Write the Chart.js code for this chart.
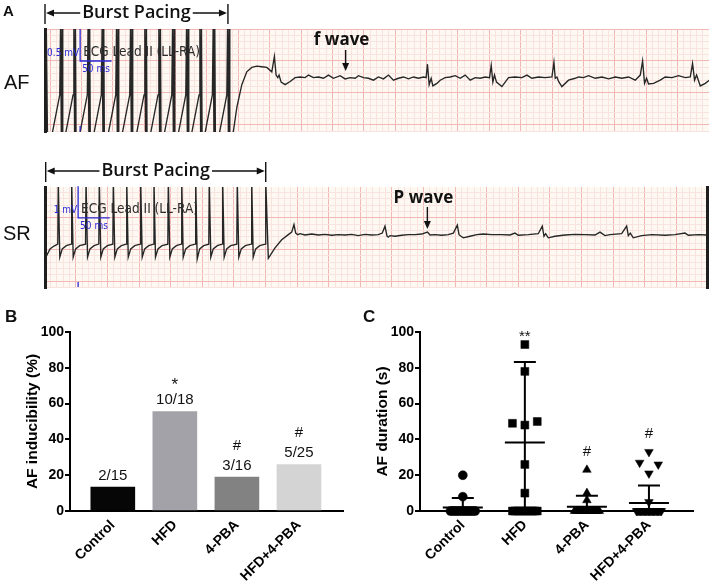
<!DOCTYPE html>
<html>
<head>
<meta charset="utf-8">
<script src="https://cdn.jsdelivr.net/npm/chart.js@4.4.0/dist/chart.umd.min.js"></script>
<style>
  html, body { margin: 0; padding: 0; background: #fff; }
  #wrap { position: relative; width: 709px; height: 584px; overflow: hidden; }
  #wrap canvas { position: absolute; }
</style>
</head>
<body>
<div id="wrap">
  <canvas id="afChart" width="709" height="145" style="left:0;top:0"></canvas>
  <canvas id="srChart" width="709" height="150" style="left:0;top:145px"></canvas>
  <canvas id="inducChart" width="355" height="284" style="left:0;top:300px"></canvas>
  <canvas id="durChart" width="354" height="284" style="left:355px;top:300px"></canvas>
</div>
<script>
// ---------- Panel A: ECG traces, [time ms, voltage mV] ----------
// burst pacing artefacts: slow upstroke, then saturated spike (clipped by the strip)
const afTrace = [
  [-6, 1.6], [-4, -0.2],
  [3, -0.16], [15.5, 0.47], [16.8, 1.6], [18, -0.2], [19.3, 1.6], [20.3, -0.2],
  [24.3, -0.16], [36.7, 0.47], [38, 1.6], [39.2, -0.2], [40.5, 1.6], [41.5, -0.2],
  [47, -0.16], [59.4, 0.47], [60.7, 1.6], [61.9, -0.2], [63.2, 1.6], [64.2, -0.2],
  [69.4, -0.16], [81.8, 0.47], [83.1, 1.6], [84.3, -0.2], [85.6, 1.6], [86.6, -0.2],
  [92.3, -0.16], [104.7, 0.47], [106, 1.6], [107.2, -0.2], [108.5, 1.6], [109.5, -0.2],
  [114.6, -0.16], [127, 0.47], [128.3, 1.6], [129.5, -0.2], [130.8, 1.6], [131.8, -0.2],
  [137.4, -0.16], [149.8, 0.47], [151.1, 1.6], [152.3, -0.2], [153.6, 1.6], [154.6, -0.2],
  [159.7, -0.16], [172.1, 0.47], [173.4, 1.6], [174.6, -0.2], [175.9, 1.6], [176.9, -0.2],
  [181.6, -0.16], [194, 0.47], [195.3, 1.6], [196.5, -0.2], [197.8, 1.6], [198.8, -0.2],
  [203.9, -0.16], [216.3, 0.47], [217.6, 1.6], [218.8, -0.2], [220.1, 1.6], [221.1, -0.2],
  [225.1, -0.16], [237.5, 0.47], [238.8, 1.6], [240, -0.2], [241.3, 1.6], [242.3, -0.2],
  [246.3, -0.16], [258.7, 0.47], [260, 1.6], [261.2, -0.2], [262.5, 1.6], [263.5, -0.2],
  [269.3, -0.16], [281.7, 0.47], [283, 1.6], [284.2, -0.2], [285.5, 1.6], [286.5, -0.2],
  [292.2, -0.1], [297.6, 0.27], [305.6, 0.63], [313.5, 0.83], [321.5, 0.9], [329.5, 0.92],
  [337.5, 0.91], [345.4, 0.9], [353.4, 0.83], [357.5, 1.07], [360.2, 0.78], [363, 0.74],
  [365, 0.78], [368.2, 0.67], [374.6, 0.63], [382.6, 0.68], [390.5, 0.74],
  [398.5, 0.75], [406.5, 0.74], [411.8, 0.78], [419.7, 0.74], [427.7, 0.75], [435.7, 0.73],
  [443.6, 0.78], [451.6, 0.73], [462.3, 0.77], [470.2, 0.72], [478.2, 0.74], [486.2, 0.73],
  [491.5, 0.77], [499.4, 0.74], [507.4, 0.73], [515.4, 0.7], [523.3, 0.75], [531.3, 0.72],
  [539.3, 0.78], [547.2, 0.7], [555.2, 0.73], [563.2, 0.75], [571.2, 0.72], [579.1, 0.75],
  [587.1, 0.73], [595.1, 0.75],
  [599.3, 0.74], [601.4, 0.95], [604.1, 0.63], [607.3, 0.73], [610, 0.61], [616.4, 0.65],
  [621.7, 0.7], [629.6, 0.74], [637.6, 0.75], [645.6, 0.77],
  [653.5, 0.73], [661.5, 0.78], [669.5, 0.7], [677.5, 0.74], [685.4, 0.73], [693.4, 0.75], [700.3, 0.74],
  [703, 0.93], [705.6, 0.67], [708.2, 0.78], [711.4, 0.67], [720, 0.6], [730.6, 0.74],
  [741.2, 0.75], [751.9, 0.74], [759.9, 0.78], [767.8, 0.73], [778.4, 0.75], [789, 0.74], [799.7, 0.75],
  [802.9, 0.98], [805, 0.73], [807.7, 0.75], [810.3, 0.68], [815.6, 0.6], [826.2, 0.7],
  [836.9, 0.73], [842.1, 0.75], [850.1, 0.74], [858.1, 0.77], [868.7, 0.73], [879.4, 0.75],
  [890, 0.72], [900.6, 0.75], [911.3, 0.73], [921.8, 0.75], [932.5, 0.7], [940.5, 0.78],
  [944.2, 1.0], [947.3, 0.65], [950.5, 0.73], [953.7, 0.64], [961.7, 0.65], [972.3, 0.7],
  [980.3, 0.75], [991, 0.74], [1001.5, 0.77], [1012.2, 0.74], [1020.2, 0.75],
  [1023.8, 0.96], [1027, 0.7], [1030.2, 0.78], [1036.1, 0.61], [1044.1, 0.65], [1050.5, 0.7]
];

const srTrace = [
  [2.7, 0.76], [9, 1.02], [15.3, 1.11],
  [21.3, 1.17], [22.1, 3.2], [24.5, 0.76], [28.4, 1.02], [34.8, 1.12],
  [42.5, 1.17], [43.3, 3.2], [45.7, 0.76], [49.6, 1.02], [56, 1.12],
  [65.2, 1.17], [66, 3.2], [68.4, 0.76], [72.3, 1.02], [78.7, 1.12],
  [86.2, 1.17], [87, 3.2], [89.4, 0.76], [93.3, 1.02], [99.7, 1.12],
  [108.4, 1.17], [109.2, 3.2], [111.6, 0.76], [115.5, 1.02], [121.9, 1.12],
  [129.6, 1.17], [130.4, 3.2], [132.8, 0.76], [136.7, 1.02], [143.1, 1.12],
  [151.7, 1.17], [152.5, 3.2], [154.9, 0.76], [158.8, 1.02], [165.2, 1.12],
  [172.7, 1.17], [173.5, 3.2], [175.9, 0.76], [179.8, 1.02], [186.2, 1.12],
  [195.4, 1.17], [196.2, 3.2], [198.6, 0.76], [202.5, 1.02], [208.9, 1.12],
  [216.6, 1.17], [217.4, 3.2], [219.8, 0.76], [223.7, 1.02], [230.1, 1.12],
  [238.7, 1.17], [239.5, 3.2], [241.9, 0.7], [245.8, 1.02], [252.2, 1.12],
  [260.2, 1.17], [261, 3.2], [263.4, 0.76], [267.3, 1.02], [273.7, 1.12],
  [281.4, 1.17], [282.2, 3.2], [284.6, 0.76], [288.5, 1.02], [294.9, 1.12],
  [304.5, 1.17], [305.3, 3.2], [307.7, 0.76], [311.6, 1.02], [318, 1.12],
  [327.3, 1.17], [328.1, 3.2], [330.5, 0.76], [334.4, 1.02], [340.8, 1.12],
  [349.5, 1.17], [350.3, 3.2], [354.4, 0.72],
  [365, 1.05], [375.6, 1.31], [386, 1.47], [391.4, 1.55], [395, 1.79], [397.7, 1.52],
  [400.9, 1.47], [404.5, 1.5], [412.4, 1.46],
  [423, 1.49], [433.5, 1.46], [444.1, 1.48], [454.7, 1.45], [465.1, 1.47], [475.7, 1.46],
  [486.3, 1.48], [496.7, 1.44], [507.3, 1.48], [518, 1.46], [528.4, 1.47], [534.7, 1.52],
  [539, 1.74], [542.2, 1.42], [544.2, 1.39], [546.9, 1.44], [554.8, 1.42], [565.4, 1.45],
  [575.8, 1.47], [586.4, 1.47], [597.1, 1.49],
  [606, 1.55], [610.3, 1.46], [618.1, 1.47], [628.7, 1.45], [639.1, 1.47], [647.1, 1.52],
  [653.4, 1.77], [656.1, 1.47], [659.3, 1.42], [662.9, 1.37], [673.5, 1.42], [684.1, 1.47], [694.5, 1.49],
  [707.8, 1.47], [723.6, 1.47], [736.7, 1.46], [744.6, 1.52], [749.9, 1.45], [765.7, 1.47], [781.5, 1.5],
  [787.8, 1.74], [790.5, 1.42], [793.2, 1.5], [797.3, 1.37], [807.9, 1.42], [823.7, 1.46],
  [839.5, 1.48], [855.4, 1.47], [871.2, 1.46], [879.1, 1.55], [887, 1.44], [894.9, 1.47], [913.4, 1.5],
  [921.3, 1.74], [923.9, 1.44], [927.1, 1.52], [931.8, 1.37], [945, 1.44], [960.9, 1.47],
  [981.9, 1.45], [997.7, 1.47], [1013.6, 1.52], [1018.9, 1.45], [1034.7, 1.47], [1047.9, 1.46], [1052, 1.47]
];

const afPacing = [-8, 283.5];     // burst pacing window (ms)
const srPacing = [2.2, 350.3];
const fWaveAt = 471;              // ms
const pWaveAt = 606;
const afCal = { t: 48, v: 1.0, mv: 0.5, ms: 50 };
const srCal = { t: 53.5, v: 2.0, mv: 1, ms: 50 };

// ---------- Panel B ----------
const groups = ['Control', 'HFD', '4-PBA', 'HFD+4-PBA'];
const inducibility = [13.3, 55.6, 19, 26];
const inducedCounts = ['2/15', '10/18', '3/16', '5/25'];
const inducMarks = ['', '*', '#', '#'];
const barColors = ['#060606', '#a2a2a8', '#828282', '#d4d4d4'];

// ---------- Panel C ----------
const controlDuration = [20, 8, 0, 0, 0, 0, 0, 0, 0, 0, 0, 0, 0, 0, 0];
const hfdDuration = [93, 78, 49, 48, 50, 26, 10, 0, 0, 0, 0, 0, 0, 0, 0, 0, 0, 0];
const pbaDuration = [23, 10, 6, 0, 0, 0, 0, 0, 0, 0, 0, 0, 0, 0, 0, 0];
const hfdPbaDuration = [33, 27, 26, 21, 5, 0, 0, 0, 0, 0, 0, 0, 0, 0, 0, 0, 0, 0, 0, 0, 0, 0, 0, 0, 0];
const durationMean = [1.9, 38.3, 2.4, 4.5];
const durationSD = [5.4, 45, 6.1, 9.8];
const durationMarks = ['', '**', '#', '#'];

// ---------- common ----------
Chart.defaults.font.family = '"Liberation Sans", Arial, sans-serif';
Chart.defaults.color = '#000';
const gridMajor = '#f2b8b8';
const gridMinor = '#f9e3df';
const ink = '#111';

function stepTicks(step) {
  return scale => {
    const ticks = [];
    for (let v = Math.ceil(scale.min / step - 1e-9) * step; v <= scale.max + 1e-9; v += step) {
      ticks.push({ value: Math.round(v * 1000) / 1000 });
    }
    scale.ticks = ticks;
  };
}

const paperBackground = {
  id: 'paperBackground',
  beforeDraw(chart) {
    const { ctx, chartArea: a } = chart;
    ctx.save();
    ctx.fillStyle = '#fdf8f1';
    ctx.fillRect(a.left, a.top, a.width, a.height);
    ctx.restore();
  }
};

function arrowHead(ctx, x, y, dir) {
  ctx.beginPath();
  if (dir === 'left') { ctx.moveTo(x, y); ctx.lineTo(x + 8, y - 3.5); ctx.lineTo(x + 8, y + 3.5); }
  else if (dir === 'right') { ctx.moveTo(x, y); ctx.lineTo(x - 8, y - 3.5); ctx.lineTo(x - 8, y + 3.5); }
  else { ctx.moveTo(x, y); ctx.lineTo(x - 3.5, y - 8); ctx.lineTo(x + 3.5, y - 8); }
  ctx.closePath();
  ctx.fill();
}

function pacingBracket(chart, win, y) {
  const { ctx, scales: { x } } = chart;
  const x1 = x.getPixelForValue(win[0]), x2 = x.getPixelForValue(win[1]);
  ctx.font = '600 18px "Open Sans"';
  const w = ctx.measureText('Burst Pacing').width;
  const cx = (x1 + x2) / 2;
  ctx.strokeStyle = ctx.fillStyle = ink;
  ctx.lineWidth = 1.4;
  ctx.beginPath();
  ctx.moveTo(x1, y - 9); ctx.lineTo(x1, y + 11);
  ctx.moveTo(x2, y - 9); ctx.lineTo(x2, y + 11);
  ctx.moveTo(x1 + 3, y); ctx.lineTo(cx - w / 2 - 2, y);
  ctx.moveTo(cx + w / 2 + 2, y); ctx.lineTo(x2 - 3, y);
  ctx.stroke();
  arrowHead(ctx, x1 + 1, y, 'left');
  arrowHead(ctx, x2 - 1, y, 'right');
  ctx.textAlign = 'center';
  ctx.textBaseline = 'middle';
  ctx.fillText('Burst Pacing', cx, y);
}

function waveLabel(chart, t, text, textY, y1, y2) {
  const { ctx, scales: { x } } = chart;
  const px = x.getPixelForValue(t);
  ctx.font = 'bold 17px "Open Sans"';
  ctx.fillStyle = ctx.strokeStyle = ink;
  ctx.textAlign = 'center';
  ctx.textBaseline = 'middle';
  ctx.fillText(text, px - 4, textY);
  ctx.lineWidth = 1.4;
  ctx.beginPath(); ctx.moveTo(px, y1); ctx.lineTo(px, y2 - 4); ctx.stroke();
  arrowHead(ctx, px, y2, 'down');
}

function calibration(chart, cal, mvText) {
  const { ctx, chartArea: a, scales: { x, y } } = chart;
  const px = x.getPixelForValue(cal.t), px1 = x.getPixelForValue(cal.t + cal.ms);
  const py0 = y.getPixelForValue(cal.v), py1 = y.getPixelForValue(cal.v + cal.mv);
  ctx.strokeStyle = ctx.fillStyle = '#2a2ad6';
  ctx.lineWidth = 1.3;
  ctx.beginPath();
  ctx.moveTo(px, py1); ctx.lineTo(px, py0); ctx.lineTo(px1, py0);
  ctx.moveTo(px, a.bottom - 6); ctx.lineTo(px, a.bottom - 1);
  ctx.stroke();
  ctx.font = '10px "Liberation Sans Narrow", "DejaVu Sans Condensed", sans-serif';
  ctx.textBaseline = 'middle';
  ctx.textAlign = 'right';
  ctx.fillText(mvText, px - 1, py0 - 8);
  ctx.textAlign = 'left';
  ctx.fillText('50 ms', px + 2, py0 + 8);
  ctx.fillStyle = '#2c2c2c';
  ctx.font = '13.5px "Liberation Sans Narrow", "DejaVu Sans Condensed", sans-serif';
  ctx.fillText('ECG Lead II (LL-RA)', px + 3, py0 - 8);
}

function ecgChart(id, trace, xr, yr, yStep, yMajor, padding, extraScales, notes) {
  return new Chart(document.getElementById(id), {
    type: 'line',
    data: {
      datasets: [{
        data: trace.map(p => ({ x: p[0], y: p[1] })),
        borderColor: '#262626',
        borderWidth: 1.35,
        pointRadius: 0,
        tension: 0
      }]
    },
    options: {
      responsive: false,
      animation: false,
      events: [],
      layout: { padding },
      plugins: { legend: { display: false }, tooltip: { enabled: false } },
      scales: Object.assign({
        x: {
          type: 'linear', min: xr[0], max: xr[1],
          afterBuildTicks: stepTicks(10),
          ticks: { display: false },
          grid: { drawTicks: false, color: c => (c.tick && Math.round(c.tick.value) % 50 === 0) ? gridMajor : gridMinor },
          border: { display: false }
        },
        y: {
          type: 'linear', min: yr[0], max: yr[1],
          afterBuildTicks: stepTicks(yStep),
          ticks: { display: false },
          grid: { drawTicks: false, color: c => (c.tick && Math.round(c.tick.value * 10) % Math.round(yMajor * 10) === 0) ? gridMajor : gridMinor },
          border: { display: true, color: '#1e1e1e', width: 3 }
        }
      }, extraScales)
    },
    plugins: [paperBackground, { id: 'ecgNotes', afterDraw: notes }]
  });
}

// AF trace
ecgChart('afChart', afTrace, [-8, 1050], [-0.11, 1.5], 0.1, 0.5,
  { left: 45, top: 29, right: 0, bottom: 13 }, {},
  chart => {
    const ctx = chart.ctx;
    ctx.save();
    ctx.fillStyle = ink;
    ctx.font = 'bold 15px "Liberation Sans"';
    ctx.textAlign = 'left'; ctx.textBaseline = 'middle';
    ctx.fillText('A', 3, 12);
    ctx.font = '20px "Liberation Sans"';
    ctx.fillText('AF', 4, 83);
    pacingBracket(chart, afPacing, 13);
    waveLabel(chart, fWaveAt, 'f wave', 40, 50, 71);
    calibration(chart, afCal, '0.5 mV');
    ctx.restore();
  });

// SR trace
ecgChart('srChart', srTrace, [1.1, 1048.4], [-0.22, 2.98], 0.2, 1,
  { left: 45, top: 42, right: 2, bottom: 7 },
  {
    y2: {
      position: 'right', min: 0, max: 1,
      ticks: { display: false },
      grid: { display: false, drawTicks: false },
      border: { display: true, color: '#1e1e1e', width: 3 }
    }
  },
  chart => {
    const ctx = chart.ctx;
    ctx.save();
    ctx.fillStyle = ink;
    ctx.font = '20px "Liberation Sans"';
    ctx.textAlign = 'left'; ctx.textBaseline = 'middle';
    ctx.fillText('SR', 3, 89);
    pacingBracket(chart, srPacing, 26);
    waveLabel(chart, pWaveAt, 'P wave', 53, 62, 84);
    calibration(chart, srCal, '1 mV');
    ctx.restore();
  });

// ---------- shared axis setup for B and C ----------
function groupAxes(yTitle, yWidth, titlePad) {
  return {
    x: {
      type: 'linear', min: -0.69, max: 3.71, offset: false,
      afterBuildTicks: scale => { scale.ticks = groups.map((g, i) => ({ value: i })); },
      afterFit: scale => { scale.height = 73; },
      ticks: {
        callback: v => groups[v],
        font: { size: 14, weight: 'bold' },
        color: '#000',
        minRotation: 45, maxRotation: 45,
        padding: 6
      },
      grid: { display: false, drawTicks: false, offset: false },
      border: { display: true, color: '#000', width: 2 }
    },
    y: {
      min: 0, max: 100,
      afterFit: scale => { scale.width = yWidth; },
      ticks: { stepSize: 20, font: { size: 14, weight: 'bold' }, color: '#000', padding: 1 },
      grid: { drawOnChartArea: false, drawTicks: true, tickLength: 5, color: '#000', lineWidth: 2 },
      border: { display: true, color: '#000', width: 2 },
      title: {
        display: true, text: yTitle, color: '#000',
        font: { size: 15.5, weight: 'bold' },
        padding: { top: titlePad, bottom: 0 }
      }
    }
  };
}

// ---------- Panel B: bar chart ----------
new Chart(document.getElementById('inducChart'), {
  type: 'bar',
  data: {
    datasets: [{
      data: inducibility.map((v, i) => ({ x: i, y: v })),
      backgroundColor: barColors,
      borderWidth: 0,
      barThickness: 44
    }]
  },
  options: {
    responsive: false,
    animation: false,
    events: [],
    layout: { padding: { top: 32, right: 12, left: 0, bottom: 0 } },
    plugins: { legend: { display: false }, tooltip: { enabled: false } },
    scales: groupAxes('AF inducibility (%)', 70, 23)
  },
  plugins: [{
    id: 'barNotes',
    afterDatasetsDraw(chart) {
      const { ctx, scales: { x, y } } = chart;
      ctx.save();
      ctx.fillStyle = ink;
      ctx.textAlign = 'center';
      ctx.textBaseline = 'alphabetic';
      ctx.font = '15px "Liberation Sans"';
      inducibility.forEach((v, i) => {
        const cx = x.getPixelForValue(i), top = y.getPixelForValue(v);
        ctx.fillText(inducedCounts[i], cx, top - 7);
        if (inducMarks[i] === '*') {
          ctx.font = '17px "Liberation Sans"';
          ctx.fillText('*', cx, top - 21);
          ctx.font = '15px "Liberation Sans"';
        } else if (inducMarks[i]) {
          ctx.fillText(inducMarks[i], cx, top - 27);
        }
      });
      ctx.font = 'bold 17px "Liberation Sans"';
      ctx.textAlign = 'left';
      ctx.textBaseline = 'middle';
      ctx.fillText('B', 5, 17);
      ctx.restore();
    }
  }]
});

// ---------- Panel C: dot plot with mean ± SD ----------
function spread(values, idx) {
  // side-by-side placement of near-equal values around the group centre
  const used = values.map(() => false);
  const pts = [];
  values.forEach((v, i) => {
    if (used[i]) return;
    const cluster = [i];
    used[i] = true;
    values.forEach((w, j) => {
      if (!used[j] && Math.abs(w - v) < 3.5) { cluster.push(j); used[j] = true; }
    });
    const k = cluster.length;
    const step = k > 1 ? Math.min(0.3, 0.4 / (k - 1)) : 0;
    cluster.forEach((j, n) => pts.push({ x: idx + (n - (k - 1) / 2) * step, y: values[j] }));
  });
  return pts;
}

const durationSets = [controlDuration, hfdDuration, pbaDuration, hfdPbaDuration];
const markerStyle = ['circle', 'rect', 'triangle', 'triangle'];
const markerRotation = [0, 0, 0, 180];
const markerRadius = [4.5, 5.6, 5, 5];

new Chart(document.getElementById('durChart'), {
  type: 'scatter',
  data: {
    datasets: durationSets.map((vals, i) => ({
      data: spread(vals, i),
      pointStyle: markerStyle[i],
      rotation: markerRotation[i],
      pointRadius: markerRadius[i],
      backgroundColor: '#000',
      borderColor: '#000',
      borderWidth: 0.5,
      clip: false
    }))
  },
  options: {
    responsive: false,
    animation: false,
    events: [],
    layout: { padding: { top: 32, right: 16, left: 0, bottom: 0 } },
    plugins: { legend: { display: false }, tooltip: { enabled: false } },
    scales: groupAxes('AF duration (s)', 65, 18)
  },
  plugins: [{
    id: 'meanSD',
    afterDatasetsDraw(chart) {
      const { ctx, chartArea: a, scales: { x, y } } = chart;
      ctx.save();
      ctx.beginPath();
      ctx.rect(a.left, a.top - 10, a.width, a.height + 10);
      ctx.clip();
      ctx.strokeStyle = '#000';
      ctx.lineWidth = 2;
      durationMean.forEach((m, i) => {
        const cx = x.getPixelForValue(i);
        const ym = y.getPixelForValue(m);
        const yt = y.getPixelForValue(m + durationSD[i]);
        const yb = y.getPixelForValue(Math.max(0, m - durationSD[i]));
        ctx.beginPath();
        ctx.moveTo(cx - 20, ym); ctx.lineTo(cx + 20, ym);
        ctx.moveTo(cx, yb); ctx.lineTo(cx, yt);
        ctx.moveTo(cx - 11, yt); ctx.lineTo(cx + 11, yt);
        ctx.stroke();
      });
      ctx.restore();

      ctx.save();
      ctx.fillStyle = ink;
      ctx.textAlign = 'center';
      ctx.textBaseline = 'alphabetic';
      ctx.font = '15px "Liberation Sans"';
      durationSets.forEach((vals, i) => {
        if (!durationMarks[i]) return;
        const top = y.getPixelForValue(Math.max(...vals));
        const cx = x.getPixelForValue(i);
        ctx.fillText(durationMarks[i], cx, top - (durationMarks[i] === '**' ? 4 : 14));
      });
      ctx.font = 'bold 17px "Liberation Sans"';
      ctx.textAlign = 'left';
      ctx.textBaseline = 'middle';
      ctx.fillText('C', 8, 17);
      ctx.restore();
    }
  }]
});
</script>
</body>
</html>
